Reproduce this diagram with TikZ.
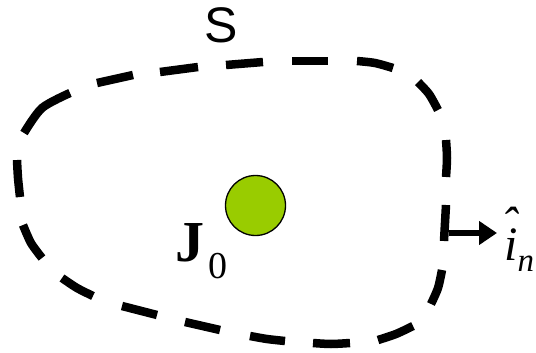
\documentclass[tikz,border=0pt]{standalone}
\usepackage{fontspec}
\setmainfont{Liberation Serif}
\newfontfamily\sansf{Liberation Sans}
\usetikzlibrary{arrows.meta}
\tikzset{
  dashseg/.style={line width=8.5pt, line cap=butt},
  charge/.style={circle, draw=black, line width=1.3pt, fill=chargegreen, minimum size=60pt, inner sep=0pt},
  normalarrow/.style={line width=5.5pt, -{Triangle[length=18pt,width=23pt]}},
  lbl/.style={inner sep=0pt}
}
\definecolor{chargegreen}{RGB}{153,204,0}
\begin{document}
\begin{tikzpicture}[x=1pt,y=-1pt]
\useasboundingbox (0,0) rectangle (536,353);
% dashed closed surface S, drawn dash by dash
\draw[dashseg] (97,83) -- (133,75);
\draw[dashseg] (160,72) -- (198,67);
\draw[dashseg] (226,65) -- (263,62);
\draw[dashseg] (292,61) -- (328,61);
\draw[dashseg] plot[smooth] coordinates {(357,61) (375,63) (393,68)};
\draw[dashseg] plot[smooth] coordinates {(418,82) (429,94) (438,110)};
\draw[dashseg] plot[smooth] coordinates {(446,140) (447,158) (446,177)};
\draw[dashseg] (446,205) -- (444,241);
\draw[dashseg] plot[smooth] coordinates {(442,270) (438,288) (431,304)};
\draw[dashseg] plot[smooth] coordinates {(413,326) (396,334) (378,340)};
\draw[dashseg] plot[smooth] coordinates {(350,343) (331,344) (313,343)};
\draw[dashseg] plot[smooth] coordinates {(285,341) (267,339) (250,336)};
\draw[dashseg] (220,330) -- (185,322);
\draw[dashseg] (157,315) -- (122,306);
\draw[dashseg] plot[smooth] coordinates {(93,296) (77,288) (62,278)};
\draw[dashseg] plot[smooth] coordinates {(42,258) (31,243) (23,225)};
\draw[dashseg] plot[smooth] coordinates {(20,197) (18,178) (17,160)};
\draw[dashseg] plot[smooth] coordinates {(24,133) (42,108) (70,93)};
\node[charge] (q) at (255.5,205.5) {};
\node[lbl, anchor=base west] (J) at (175,261) {\fontsize{58}{60}\selectfont\textbf{J}\kern4pt\raisebox{-17pt}{\fontsize{38}{40}\selectfont 0}};
\node[lbl, anchor=base west] (S) at (204,43) {\sansf\fontsize{50}{52}\selectfont S};
\coordinate (n0) at (449,233);
\coordinate (n1) at (497,233);
\draw[normalarrow] (n0) -- (n1);
\node[lbl, anchor=base west] (in) at (504,260) {\fontsize{48}{50}\selectfont\ooalign{\textit{i}\cr\hidewidth\raisebox{0.40em}{\textit{ˆ}}\hidewidth\cr}\kern0pt\raisebox{-11pt}{\fontsize{33}{35}\selectfont\textit{n}}};
\end{tikzpicture}
\end{document}
